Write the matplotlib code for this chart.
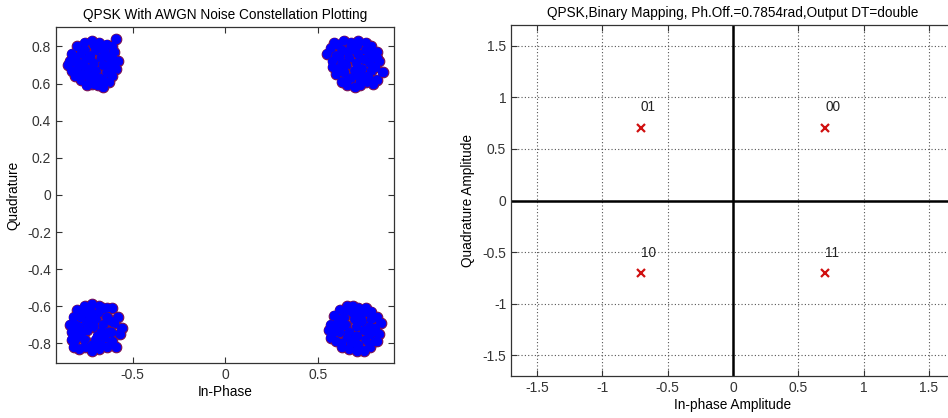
import matplotlib.pyplot as plt

plt.rcParams['font.family'] = ['Liberation Sans', 'DejaVu Sans']

# received symbols, one list per quadrant
tl_i = [-0.84, -0.85, -0.83, -0.80, -0.76, -0.72, -0.68, -0.64, -0.61, -0.59, -0.60, -0.58,
        -0.59, -0.61, -0.63, -0.66, -0.69, -0.72, -0.75, -0.78, -0.81, -0.83,
        -0.71, -0.67, -0.75, -0.70, -0.74, -0.66, -0.63, -0.79, -0.78, -0.70, -0.65, -0.74,
        -0.68, -0.62, -0.80, -0.72, -0.76, -0.64, -0.69,
        -0.73, -0.69, -0.77, -0.81, -0.66, -0.62, -0.71, -0.77, -0.67, -0.73, -0.82, -0.61]
tl_q = [0.72, 0.70, 0.76, 0.80, 0.82, 0.83, 0.82, 0.81, 0.80, 0.84, 0.77, 0.72,
        0.68, 0.64, 0.61, 0.58, 0.59, 0.60, 0.59, 0.62, 0.64, 0.67,
        0.71, 0.74, 0.73, 0.67, 0.68, 0.70, 0.74, 0.71, 0.76, 0.78, 0.77, 0.64,
        0.63, 0.68, 0.68, 0.64, 0.78, 0.66, 0.80,
        0.75, 0.61, 0.65, 0.74, 0.62, 0.71, 0.81, 0.70, 0.79, 0.62, 0.72, 0.75]

tr_i = [0.59, 0.57, 0.55, 0.58, 0.61, 0.64, 0.68, 0.72, 0.76, 0.79, 0.82, 0.83, 0.85,
        0.82, 0.80, 0.76, 0.73, 0.70, 0.66, 0.63, 0.60, 0.58,
        0.71, 0.67, 0.75, 0.70, 0.74, 0.65, 0.62, 0.78, 0.79, 0.70, 0.66, 0.74,
        0.68, 0.61, 0.80, 0.72, 0.76, 0.64, 0.69,
        0.73, 0.77, 0.63, 0.68, 0.81, 0.60, 0.72, 0.66, 0.78, 0.71, 0.63, 0.82]
tr_q = [0.82, 0.79, 0.76, 0.72, 0.81, 0.83, 0.82, 0.83, 0.82, 0.80, 0.77, 0.72, 0.66,
        0.62, 0.60, 0.61, 0.59, 0.58, 0.59, 0.61, 0.65, 0.69,
        0.71, 0.74, 0.73, 0.67, 0.68, 0.70, 0.74, 0.71, 0.67, 0.78, 0.77, 0.64,
        0.63, 0.68, 0.74, 0.64, 0.78, 0.66, 0.80,
        0.61, 0.64, 0.78, 0.80, 0.69, 0.75, 0.76, 0.62, 0.76, 0.81, 0.71, 0.74]

bl_i = [-0.84, -0.82, -0.83, -0.80, -0.76, -0.72, -0.68, -0.64, -0.61, -0.58, -0.56, -0.57,
        -0.59, -0.61, -0.64, -0.68, -0.72, -0.76, -0.79, -0.82, -0.83, -0.81,
        -0.71, -0.67, -0.75, -0.70, -0.74, -0.66, -0.63, -0.79, -0.78, -0.70, -0.65, -0.74,
        -0.68, -0.62, -0.80, -0.72, -0.76, -0.64, -0.69,
        -0.73, -0.77, -0.67, -0.81, -0.60, -0.66, -0.72, -0.78, -0.62, -0.69, -0.75, -0.82]
bl_q = [-0.70, -0.66, -0.74, -0.62, -0.60, -0.59, -0.60, -0.61, -0.61, -0.66, -0.72, -0.75,
        -0.82, -0.79, -0.82, -0.83, -0.84, -0.82, -0.83, -0.82, -0.78, -0.75,
        -0.71, -0.74, -0.73, -0.67, -0.68, -0.70, -0.74, -0.71, -0.66, -0.78, -0.77, -0.64,
        -0.63, -0.68, -0.77, -0.64, -0.78, -0.66, -0.80,
        -0.62, -0.62, -0.81, -0.70, -0.69, -0.61, -0.81, -0.74, -0.74, -0.76, -0.69, -0.79]

br_i = [0.57, 0.57, 0.56, 0.59, 0.62, 0.66, 0.69, 0.72, 0.76, 0.79, 0.82, 0.84, 0.83,
        0.81, 0.78, 0.75, 0.71, 0.67, 0.63, 0.60, 0.59, 0.61,
        0.71, 0.67, 0.75, 0.70, 0.74, 0.65, 0.62, 0.78, 0.79, 0.70, 0.66, 0.74,
        0.68, 0.61, 0.80, 0.72, 0.76, 0.64, 0.69,
        0.73, 0.77, 0.63, 0.68, 0.81, 0.60, 0.72, 0.66, 0.78, 0.71, 0.64, 0.82]
br_q = [-0.70, -0.77, -0.73, -0.65, -0.62, -0.60, -0.60, -0.61, -0.61, -0.63, -0.66, -0.69, -0.75,
        -0.79, -0.82, -0.84, -0.84, -0.83, -0.82, -0.79, -0.74, -0.67,
        -0.71, -0.74, -0.73, -0.67, -0.68, -0.70, -0.74, -0.71, -0.67, -0.78, -0.77, -0.64,
        -0.63, -0.68, -0.74, -0.64, -0.78, -0.66, -0.80,
        -0.62, -0.63, -0.80, -0.80, -0.72, -0.70, -0.81, -0.62, -0.75, -0.76, -0.70, -0.79]

# ideal constellation
ref_i = [0.7071, -0.7071, -0.7071, 0.7071]
ref_q = [0.7071, 0.7071, -0.7071, -0.7071]
ref_labels = ["00", "01", "10", "11"]

fig = plt.figure(figsize=(9.48, 4.18), dpi=100)
ax1 = fig.add_axes([56 / 948, 1 - 363 / 418, 338 / 948, 336 / 418])
ax2 = fig.add_axes([511 / 948, 1 - 376 / 418, 444 / 948, 351 / 418])

clusters = [(tl_i, tl_q), (tr_i, tr_q), (bl_i, bl_q), (br_i, br_q)]
# outlined markers first, then a solid pass so only the cloud edge keeps its rim
for xs, ys in clusters:
    ax1.scatter(xs, ys, s=58, c='#0000ff', edgecolors='#7a1050', linewidths=0.8, zorder=3)
for xs, ys in clusters:
    ax1.scatter(xs, ys, s=44, c='#0000ff', edgecolors='none', zorder=4)

ax1.set_xlim(-0.915, 0.912)
ax1.set_ylim(-0.906, 0.905)
ax1.set_xticks([-0.5, 0, 0.5])
ax1.set_xticklabels(['-0.5', '0', '0.5'])
ax1.set_yticks([-0.8, -0.6, -0.4, -0.2, 0, 0.2, 0.4, 0.6, 0.8])
ax1.set_yticklabels(['-0.8', '-0.6', '-0.4', '-0.2', '0', '0.2', '0.4', '0.6', '0.8'])
ax1.set_title("QPSK With AWGN Noise Constellation Plotting", fontsize=9.8, pad=6)
ax1.set_xlabel("In-Phase", fontsize=9.8, labelpad=2)
ax1.set_ylabel("Quadrature", fontsize=9.8, labelpad=5)

# reference constellation
ax2.axhline(0, color='black', lw=1.8, zorder=2)
ax2.axvline(0, color='black', lw=1.8, zorder=2)
ax2.plot(ref_i, ref_q, 'x', color='#d01010', ms=6, mew=1.6, ls='none', zorder=3)
for xi, yi, lab in zip(ref_i, ref_q, ref_labels):
    ax2.text(xi, yi + 0.2, lab, fontsize=9.8, ha='left', va='center', color='#222222')
ax2.set_xlim(-1.7, 1.7)
ax2.set_ylim(-1.7, 1.7)
ticks = [-1.5, -1, -0.5, 0, 0.5, 1, 1.5]
ax2.set_xticks(ticks)
ax2.set_xticklabels(['-1.5', '-1', '-0.5', '0', '0.5', '1', '1.5'])
ax2.set_yticks(ticks)
ax2.set_yticklabels(['-1.5', '-1', '-0.5', '0', '0.5', '1', '1.5'])
ax2.grid(True, ls=(0, (1, 2)), color='#555555', lw=0.8)
ax2.set_title("QPSK,Binary Mapping, Ph.Off.=0.7854rad,Output DT=double", fontsize=9.8, pad=6)
ax2.set_xlabel("In-phase Amplitude", fontsize=9.8, labelpad=2)
ax2.set_ylabel("Quadrature Amplitude", fontsize=9.8, labelpad=5)

for ax in (ax1, ax2):
    ax.tick_params(direction='in', top=True, right=True, labelsize=10, length=4,
                   colors='#333333', labelcolor='#333333')
    for sp in ax.spines.values():
        sp.set_color('#333333')
        sp.set_linewidth(0.9)

fig.savefig('out.png', dpi=100)
